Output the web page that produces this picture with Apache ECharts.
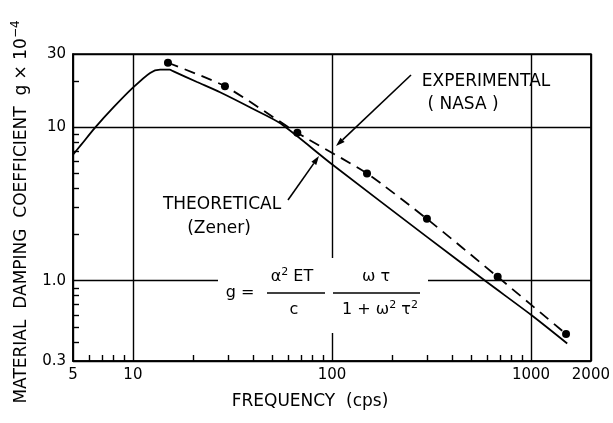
<!DOCTYPE html>
<html>
<head>
<meta charset="utf-8">
<script src="https://cdn.jsdelivr.net/npm/echarts@6/dist/echarts.min.js"></script>
<style>
html, body { margin: 0; padding: 0; background: #fff; }
#chart { width: 613px; height: 423px; }
</style>
</head>
<body>
<div id="chart"></div>
<script>
// theoretical (Zener) curve
var theoFreq = [5, 5.5, 6.44, 8, 10, 12.2, 13.7, 15.3, 15.9, 21, 27.4, 40, 55, 100, 300, 600, 1000, 1520];
var theoG = [6.62, 7.7, 9.9, 13.5, 18.1, 22.6, 23.7, 23.7, 23.2, 19.7, 16.9, 13.2, 10.6, 5.74, 1.93, 0.98, 0.6, 0.39];
// experimental (NASA) points
var expFreq = [15, 29, 67, 150, 300, 680, 1500];
var expG = [26.3, 18.5, 9.2, 5.0, 2.53, 1.06, 0.45];
// axis ticks
var xMinorTicks = [6, 7, 8, 9, 20, 30, 40, 50, 60, 70, 80, 90, 200, 300, 400, 500, 600, 700, 800, 900];
var yMinorTicks = [0.4, 0.5, 0.6, 0.7, 0.8, 0.9, 2, 3, 4, 5, 6, 7, 8, 9, 20];

var FONT = 'DejaVu Sans';
var chart = echarts.init(document.getElementById('chart'));

function zip(a, b) {
    var out = [];
    for (var i = 0; i < a.length; i++) out.push([a[i], b[i]]);
    return out;
}
function fmt(v) {
    var n = +(+v).toPrecision(3);
    return n === 1 ? '1.0' : String(n);
}
// leader line with a filled arrow head at (x2,y2)
function arrow(x1, y1, x2, y2) {
    var dx = x2 - x1, dy = y2 - y1, len = Math.sqrt(dx * dx + dy * dy);
    var ux = dx / len, uy = dy / len, L = 9, W = 3;
    var bx = x2 - ux * L, by = y2 - uy * L;
    return [
        { type: 'line', z: 20, shape: { x1: x1, y1: y1, x2: bx, y2: by }, style: { stroke: '#000', lineWidth: 1.6 } },
        { type: 'polygon', z: 20, shape: { points: [[x2, y2], [bx - uy * W, by + ux * W], [bx + uy * W, by - ux * W]] }, style: { fill: '#000' } }
    ];
}
function txt(x, y, text, size, extra) {
    var s = { text: text, fill: '#000', font: size + 'px "' + FONT + '"', align: 'center', verticalAlign: 'middle' };
    if (extra) for (var k in extra) s[k] = extra[k];
    return { type: 'text', z: 30, x: x, y: y, style: s };
}
var supRich = {
    t: { fontSize: 16, fontFamily: FONT, lineHeight: 20 },
    s: { fontSize: 11, fontFamily: FONT, verticalAlign: 'top', lineHeight: 12 }
};

var yTitle = txt(22, 212, '{a|MATERIAL  DAMPING  COEFFICIENT  g × 10}{s|−4}', 17, {
    rich: { a: { fontSize: 17, fontFamily: FONT, lineHeight: 24 }, s: { fontSize: 12, fontFamily: FONT, verticalAlign: 'top', lineHeight: 13 } }
});
yTitle.rotation = Math.PI / 2;

var graphics = [
    // white patch where the formula interrupts the grid
    { type: 'rect', z: 10, shape: { x: 218, y: 258, width: 210, height: 75 }, style: { fill: '#fff' } },
    yTitle,
    txt(310, 402, 'FREQUENCY  (cps)', 17),
    txt(486, 82, 'EXPERIMENTAL', 17),
    txt(463, 105, '( NASA )', 17),
    txt(222, 205, 'THEORETICAL', 17),
    txt(219, 229, '(Zener)', 17),
    txt(240, 293, 'g =', 16),
    txt(292, 277, '{t|α}{s|2}{t| ET}', 16, { rich: supRich }),
    { type: 'line', z: 30, shape: { x1: 267, y1: 293, x2: 325, y2: 293 }, style: { stroke: '#000', lineWidth: 1.6 } },
    txt(294, 310, 'c', 16),
    txt(376, 277, 'ω τ', 16),
    { type: 'line', z: 30, shape: { x1: 333, y1: 293, x2: 420, y2: 293 }, style: { stroke: '#000', lineWidth: 1.6 } },
    txt(380, 310, '{t|1 + ω}{s|2}{t| τ}{s|2}', 16, { rich: supRich })
].concat(arrow(411, 75, 336, 146), arrow(288, 200, 319, 156));

var axisLineStyle = { color: '#000', width: 1.6 };

chart.setOption({
    animation: false,
    backgroundColor: '#fff',
    grid: {
        left: 73, right: 21, top: 54, bottom: 62,
        show: true, borderColor: '#000', borderWidth: 1.6
    },
    xAxis: [{
        type: 'log', logBase: 10, min: 5, max: 2000,
        axisLine: { show: true, lineStyle: axisLineStyle },
        axisTick: { show: false },
        axisLabel: {
            color: '#000', fontSize: 15, fontFamily: FONT, margin: 7,
            showMinLabel: true, showMaxLabel: true,
            formatter: fmt
        },
        splitLine: { show: true, lineStyle: { color: '#000', width: 1.4 } }
    }, {
        type: 'log', logBase: 10, min: 5, max: 2000, position: 'bottom',
        axisLine: { show: false },
        axisLabel: { show: false },
        splitLine: { show: false },
        axisTick: { show: true, inside: true, length: 6, customValues: xMinorTicks, lineStyle: { color: '#000', width: 1.4 } }
    }],
    yAxis: [{
        type: 'log', logBase: 10, min: 0.3, max: 30,
        axisLine: { show: true, lineStyle: axisLineStyle },
        axisTick: { show: false },
        axisLabel: {
            color: '#000', fontSize: 15, fontFamily: FONT, margin: 7,
            showMinLabel: true, showMaxLabel: true,
            formatter: fmt
        },
        splitLine: { show: true, lineStyle: { color: '#000', width: 1.4 } }
    }, {
        type: 'log', logBase: 10, min: 0.3, max: 30, position: 'left',
        axisLine: { show: false },
        axisLabel: { show: false },
        splitLine: { show: false },
        axisTick: { show: true, inside: true, length: 6, customValues: yMinorTicks, lineStyle: { color: '#000', width: 1.4 } }
    }],
    series: [{
        name: 'Theoretical (Zener)',
        type: 'line',
        data: zip(theoFreq, theoG),
        showSymbol: false,
        smooth: 0.25,
        lineStyle: { color: '#000', width: 1.8 },
        z: 5
    }, {
        name: 'Experimental (NASA)',
        type: 'line',
        data: zip(expFreq, expG),
        symbol: 'circle',
        symbolSize: 8,
        smooth: 0.2,
        itemStyle: { color: '#000' },
        lineStyle: { color: '#000', width: 1.8, type: [11, 7] },
        z: 5
    }],
    graphic: graphics
});
</script>
</body>
</html>
